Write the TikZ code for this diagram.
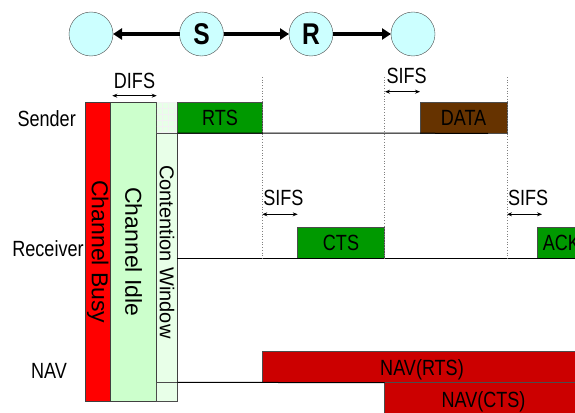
\documentclass[tikz,border=0pt]{standalone}
\usepackage{fontspec}
\setmainfont{Liberation Sans}
\newfontfamily\condfont{Liberation Sans}[FakeStretch=0.82]
\usetikzlibrary{calc}
\usetikzlibrary{positioning}
\usetikzlibrary{arrows.meta}

\definecolor{stationcyan}{HTML}{CCFFFF}
\definecolor{busyred}{HTML}{FF0000}
\definecolor{idlegreen}{HTML}{CCFFCC}
\definecolor{cwgreen}{HTML}{E8FFE8}
\definecolor{ctrlgreen}{HTML}{009900}
\definecolor{databrown}{HTML}{663300}
\definecolor{navred}{HTML}{CC0000}

\begin{document}
\begin{tikzpicture}
[x=1pt, y=-1pt,
% 文字の設定
every node/.style={inner sep=0, outer sep=0, font=\condfont\fontsize{22}{26}\selectfont},
% 局
station/.style={circle, draw=black!70, fill=stationcyan, minimum size=44pt,
font=\condfont\bfseries\fontsize{30}{32}\selectfont},
% 局間の矢印
link/.style={-{Triangle[length=9pt, width=11pt]}, line width=3.2pt},
% フレーム間隔の両矢印
ifs/.style={{Stealth[length=5pt, width=4pt]}-{Stealth[length=5pt, width=4pt]}, line width=0.8pt},
% チャネル状態の帯
bar/.style={rectangle, draw=black!75, line width=0.8pt, minimum width=#1,
minimum height=299.7pt, anchor=north west},
bartext/.style={rotate=-90, font=\fontsize{23}{26}\selectfont},
% フレーム
pkt/.style={rectangle, draw=black!70, line width=0.8pt, minimum height=31pt,
text height=16pt, text depth=0pt, anchor=north west},
% 時間軸
timeline/.style={line width=1pt},
guide/.style={dotted, black!50, line width=0.7pt}
]
\useasboundingbox (0,0) rectangle (575,412);
\clip (0,0) rectangle (575,412);

% 局の配置
\node [station] (A) at (91,34) {};
\node [station, right=66.5pt of A] (S) {S};
\node [station, right=65.5pt of S] (R) {R};
\node [station, right=58pt of R] (B) {};

% 局間の接続
\draw [link] (S) -- (A);
\draw [link] (S) -- (R);
\draw [link] (R) -- (B);

% チャネル状態の帯
\node [bar=25.7pt, fill=busyred] (busy) at (85,102) {};
\node [bar=46pt, fill=idlegreen, right=0pt of busy] (idle) {};
\node [bar=20.6pt, fill=cwgreen, right=0pt of idle] (cw) {};
\node [pkt, fill=cwgreen, minimum width=20.6pt] (cwtop) at (cw.north west) {};
\draw [black!5, line width=0.5pt] (cwtop.south west) grid[step=6pt] (cwtop.north east);
\node [pkt, fill=cwgreen, minimum width=20.6pt, minimum height=19.4pt,
anchor=south west] (cwbot) at (cw.south west) {};
\node [bartext] (busytext) at (busy.center) {Channel Busy};
\node [bartext] (idletext) at (idle.center) {Channel Idle};
\node [bartext, font=\fontsize{20}{24}\selectfont] (cwtext) at (cw.center) {Contention Window};

% 行の名前
\node [anchor=base] (sender) at (46.7,126.7) {Sender};
\node [anchor=base] (receiver) at (48,256.7) {Receiver};
\node [anchor=base] (nav) at (49,378) {NAV};

% フレームの配置
\node [pkt, fill=ctrlgreen, minimum width=85.3pt] (rts) at (cwtop.north east) {RTS};
\node [pkt, fill=databrown, minimum width=87pt] (data) at (420,102) {DATA};
\node [pkt, fill=ctrlgreen, minimum width=86.6pt] (cts) at (297.7,227) {CTS};
\node [pkt, fill=ctrlgreen, minimum width=48pt] (ack) at (537.3,227) {ACK};
\node [pkt, fill=navred, minimum width=320pt] (navrts) at (262,351.7) {NAV(RTS)};
\node [pkt, fill=navred, minimum width=198pt, minimum height=33pt] (navcts) at (384.5,382.7) {NAV(CTS)};

% 時間軸
\coordinate (sendend) at (488,133.3);
\draw [timeline] (rts.south west) -- (sendend);
\draw [timeline] (cw.east |- cts.south) -- (ack.south east);
\draw [timeline] (cwbot.north east) -- (navcts.north west);

% 区切りの点線
\coordinate (g1) at (262.3,77);
\coordinate (g2) at (384.3,77);
\coordinate (g3) at (507,77);
\draw [guide] (g1) -- (g1 |- cts.south);
\draw [guide] (g2) -- (g2 |- cts.south);
\draw [guide] (g3) -- (g3 |- cts.south);

% DIFS と SIFS
\coordinate (difsL) at (112.3,95.7);
\coordinate (difsR) at (156.7,95.7);
\draw [ifs] (difsL) -- (difsR) node [midway, anchor=base, yshift=7.7pt] (difs) {DIFS};
\coordinate (sifs1L) at (385,91.7);
\coordinate (sifs1R) at (420,91.7);
\draw [ifs] (sifs1L) -- (sifs1R) node [pos=0, anchor=base west, xshift=1.5pt, yshift=8.7pt] (sifs1) {SIFS};
\coordinate (sifs2L) at (262.3,214.3);
\coordinate (sifs2R) at (297.7,214.3);
\draw [ifs] (sifs2L) -- (sifs2R) node [pos=0, anchor=base west, xshift=1pt, yshift=9.3pt] (sifs2) {SIFS};
\coordinate (sifs3L) at (507,214.3);
\coordinate (sifs3R) at (542,214.3);
\draw [ifs] (sifs3L) -- (sifs3R) node [pos=0, anchor=base west, xshift=1pt, yshift=9.3pt] (sifs3) {SIFS};
\end{tikzpicture}
\end{document}
